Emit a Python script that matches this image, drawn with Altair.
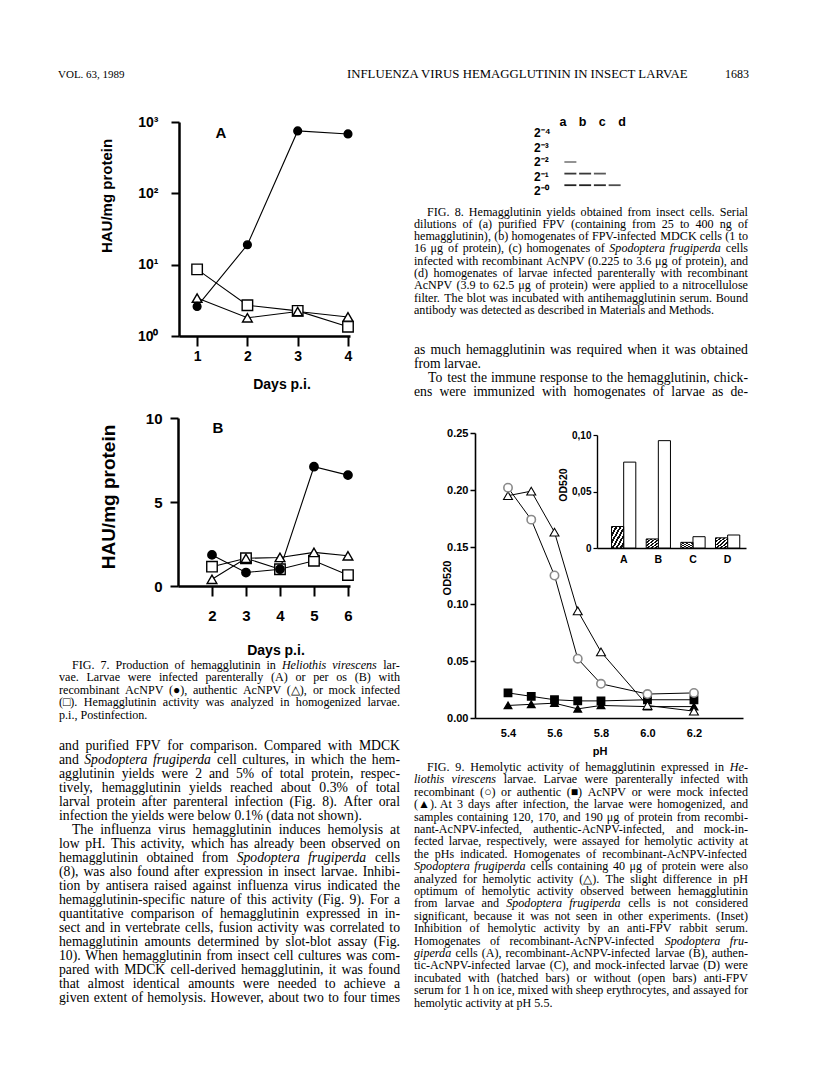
import altair as alt
import pandas as pd

# ---------------- data (read from the scanned page) ----------------
fig7a_days = [1, 2, 3, 4]
fig7a_recombinant = [2.6, 19.0, 750.0, 680.0]   # filled circles
fig7a_authentic = [3.4, 1.8, 2.2, 1.85]         # open triangles
fig7a_mock = [8.6, 2.7, 2.25, 1.35]             # open squares

fig7b_days = [2, 3, 4, 5, 6]
fig7b_recombinant = [1.85, 0.8, 1.0, 7.1, 6.6]
fig7b_authentic = [0.4, 1.65, 1.7, 2.0, 1.8]
fig7b_mock = [1.15, 1.65, 1.0, 1.5, 0.65]

fig9_ph = [5.4, 5.5, 5.6, 5.7, 5.8, 6.0, 6.2]
fig9_recombinant = [0.202, 0.174, 0.125, 0.052, 0.030, 0.021, 0.022]   # open circles
fig9_authentic = [0.022, 0.019, 0.016, 0.015, 0.015, 0.016, 0.016]     # filled squares
fig9_mock = [0.011, 0.012, 0.013, 0.008, 0.011, 0.010, 0.010]          # filled triangles
fig9_sf_cells = [0.195, 0.199, 0.163, 0.094, 0.058, 0.011, 0.006]      # open triangles

inset_groups = ["A", "B", "C", "D"]
inset_hatched = [0.019, 0.008, 0.005, 0.009]
inset_open = [0.076, 0.095, 0.010, 0.0115]

blot_lanes = ["a", "b", "c", "d"]
blot_rows = ["2⁻⁴", "2⁻³", "2⁻²", "2⁻¹", "2⁻⁰"]
blot_band_lane = ["a", "a", "b", "c", "a", "b", "c", "d"]
blot_band_row = ["2⁻²", "2⁻¹", "2⁻¹", "2⁻¹", "2⁻⁰", "2⁻⁰", "2⁻⁰", "2⁻⁰"]
blot_band_intensity = [0.55, 0.9, 0.9, 0.75, 1.0, 1.0, 0.95, 0.8]

header_left = "VOL. 63, 1989"
header_title = "INFLUENZA VIRUS HEMAGGLUTININ IN INSECT LARVAE"
header_page = "1683"

italic_words = {"Heliothis", "virescens", "Spodoptera", "frugiperda", "He-", "liothis", "fru-",
                "giperda"}

fig7_caption = [
    "FIG. 7. Production of hemagglutinin in Heliothis virescens lar-",
    "vae. Larvae were infected parenterally (A) or per os (B) with",
    "recombinant AcNPV (●), authentic AcNPV (△), or mock infected",
    "(□). Hemagglutinin activity was analyzed in homogenized larvae.",
    "p.i., Postinfection.",
]
left_par1 = [
    "and purified FPV for comparison. Compared with MDCK",
    "and Spodoptera frugiperda cell cultures, in which the hem-",
    "agglutinin yields were 2 and 5% of total protein, respec-",
    "tively, hemagglutinin yields reached about 0.3% of total",
    "larval protein after parenteral infection (Fig. 8). After oral",
    "infection the yields were below 0.1% (data not shown).",
]
left_par2 = [
    "The influenza virus hemagglutinin induces hemolysis at",
    "low pH. This activity, which has already been observed on",
    "hemagglutinin obtained from Spodoptera frugiperda cells",
    "(8), was also found after expression in insect larvae. Inhibi-",
    "tion by antisera raised against influenza virus indicated the",
    "hemagglutinin-specific nature of this activity (Fig. 9). For a",
    "quantitative comparison of hemagglutinin expressed in in-",
    "sect and in vertebrate cells, fusion activity was correlated to",
    "hemagglutinin amounts determined by slot-blot assay (Fig.",
    "10). When hemagglutinin from insect cell cultures was com-",
    "pared with MDCK cell-derived hemagglutinin, it was found",
    "that almost identical amounts were needed to achieve a",
    "given extent of hemolysis. However, about two to four times",
]
fig8_caption = [
    "FIG. 8. Hemagglutinin yields obtained from insect cells. Serial",
    "dilutions of (a) purified FPV (containing from 25 to 400 ng of",
    "hemagglutinin), (b) homogenates of FPV-infected MDCK cells (1 to",
    "16 μg of protein), (c) homogenates of Spodoptera frugiperda cells",
    "infected with recombinant AcNPV (0.225 to 3.6 μg of protein), and",
    "(d) homogenates of larvae infected parenterally with recombinant",
    "AcNPV (3.9 to 62.5 μg of protein) were applied to a nitrocellulose",
    "filter. The blot was incubated with antihemagglutinin serum. Bound",
    "antibody was detected as described in Materials and Methods.",
]
right_par1 = [
    "as much hemagglutinin was required when it was obtained",
    "from larvae.",
]
right_par2 = [
    "To test the immune response to the hemagglutinin, chick-",
    "ens were immunized with homogenates of larvae as de-",
]
fig9_caption = [
    "FIG. 9. Hemolytic activity of hemagglutinin expressed in He-",
    "liothis virescens larvae. Larvae were parenterally infected with",
    "recombinant (○) or authentic (■) AcNPV or were mock infected",
    "(▲). At 3 days after infection, the larvae were homogenized, and",
    "samples containing 120, 170, and 190 μg of protein from recombi-",
    "nant-AcNPV-infected, authentic-AcNPV-infected, and mock-in-",
    "fected larvae, respectively, were assayed for hemolytic activity at",
    "the pHs indicated. Homogenates of recombinant-AcNPV-infected",
    "Spodoptera frugiperda cells containing 40 μg of protein were also",
    "analyzed for hemolytic activity (△). The slight difference in pH",
    "optimum of hemolytic activity observed between hemagglutinin",
    "from larvae and Spodoptera frugiperda cells is not considered",
    "significant, because it was not seen in other experiments. (Inset)",
    "Inhibition of hemolytic activity by an anti-FPV rabbit serum.",
    "Homogenates of recombinant-AcNPV-infected Spodoptera fru-",
    "giperda cells (A), recombinant-AcNPV-infected larvae (B), authen-",
    "tic-AcNPV-infected larvae (C), and mock-infected larvae (D) were",
    "incubated with (hatched bars) or without (open bars) anti-FPV",
    "serum for 1 h on ice, mixed with sheep erythrocytes, and assayed for",
    "hemolytic activity at pH 5.5.",
]

# ---------------- layout helpers (page pixel coordinates) ----------------
W, H = 800, 1061
M = 8
SANS = "Liberation Sans"
SERIF = "Liberation Serif"
ONE = pd.DataFrame({"k": [0]})
CAP = 12.1   # caption font size
BODY = 13.7  # body text font size

# Times (Liberation Serif) advance widths per 1000 em, used only to typeset justified lines
_REG = dict(zip(" !\"#$%&'()*+,-./0123456789:;<=>?@", [250, 333, 408, 500, 500, 833, 778, 180, 333, 333, 500, 564, 250, 333, 250, 278] + [500] * 10 + [278, 278, 564, 564, 564, 444, 921]))
_REG.update(dict(zip("ABCDEFGHIJKLMNOPQRSTUVWXYZ", [722, 667, 667, 722, 611, 556, 722, 722, 333, 389, 722, 611, 889, 722, 722, 556, 722, 667, 556, 611, 722, 722, 944, 722, 722, 611])))
_REG.update(dict(zip("abcdefghijklmnopqrstuvwxyz", [444, 500, 444, 500, 444, 333, 500, 500, 278, 278, 500, 278, 778, 500, 500, 500, 500, 333, 389, 278, 500, 500, 722, 500, 500, 444])))
_REG.update({"[": 333, "]": 333, "μ": 576, "●": 604, "○": 604, "■": 604, "□": 604, "▲": 780, "△": 780})
_ITA = dict(_REG)
_ITA.update(dict(zip("abcdefghijklmnopqrstuvwxyz", [500, 500, 444, 500, 444, 278, 500, 500, 278, 278, 444, 278, 722, 500, 500, 500, 500, 389, 389, 278, 500, 444, 667, 444, 444, 389])))
_ITA.update({"H": 722, "S": 500})


def tw(word, size, italic):
    table = _ITA if italic else _REG
    return sum(table.get(ch, 500) for ch in word) * size / 1000.0


def typeset(lines, left, right, top, lh, size, indent, last_free):
    rows = []
    for i, line in enumerate(lines):
        words = line.split(" ")
        x0 = left + (indent if i == 0 else 0)
        its = [w in italic_words for w in words]
        widths = [tw(w, size, it) for w, it in zip(words, its)]
        natural = 0.25 * size
        free = last_free and i == len(lines) - 1
        if len(words) > 1 and not free:
            gap = (right - x0 - sum(widths)) / (len(words) - 1)
            gap = max(gap, 0.12 * size)
        else:
            gap = natural
        x = x0
        for w, it, wd in zip(words, its, widths):
            rows.append({"word": w, "px": P(x), "py": P(top + i * lh), "italic": it, "size": size})
            x += wd + gap
    return rows


def P(v):
    return v - M


def xscale(domain, left, right, **kw):
    return alt.Scale(domain=domain, range=[P(left), P(right)], nice=False, zero=False, **kw)


def yscale(domain, bottom, top, **kw):
    return alt.Scale(domain=domain, range=[P(bottom), P(top)], nice=False, **kw)


def text(lines, x, y, size=11, lh=12.4, font=SERIF, weight="normal", align="left",
         angle=0, baseline="alphabetic"):
    val = lines if isinstance(lines, str) else list(lines)
    return alt.Chart(ONE).mark_text(
        align=align, baseline=baseline, font=font, fontSize=size, lineHeight=lh,
        fontWeight=weight, angle=angle, color="black",
    ).encode(x=alt.value(P(x)), y=alt.value(P(y)), text=alt.value(val))


def axis(orient, pos, **kw):
    base = dict(orient=orient, title=None, grid=False, domainColor="black", tickColor="black",
                labelColor="black", labelFont=SANS, labelFontWeight="bold", labelOverlap=False,
                labelFlush=False)
    if orient == "left":
        base["offset"] = -P(pos)
    else:
        base["offset"] = P(pos) - H
    base.update(kw)
    return alt.Axis(**base)


def frame(xs, ys):
    return pd.DataFrame({"x": xs, "y": ys})


def line_layer(df, sx, sy, ax=None, ay=None, sw=1.1):
    return alt.Chart(df).mark_line(color="black", strokeWidth=sw).encode(
        x=alt.X("x:Q", scale=sx, axis=ax),
        y=alt.Y("y:Q", scale=sy, axis=ay),
    )


def point_layer(df, sx, sy, shape, fill, stroke, size, sw=1.4):
    return alt.Chart(df).mark_point(
        shape=shape, filled=True, fill=fill, stroke=stroke, strokeWidth=sw, size=size, opacity=1
    ).encode(
        x=alt.X("x:Q", scale=sx, axis=None),
        y=alt.Y("y:Q", scale=sy, axis=None),
    )


layers = []

# ---------------- header ----------------
layers.append(text(header_left, 58, 78, size=11))
layers.append(text(header_title, 347, 78, size=12.8))
layers.append(text(header_page, 749, 78, size=12, align="right"))

# ---------------- Fig 7A ----------------
sx7a = xscale([0.64, 4.04], 179, 350)
sy7a = yscale([1, 1000], 336, 122, type="log")
ax7a = axis("bottom", 336, values=fig7a_days, format="d", tickSize=10, tickWidth=2,
            domainWidth=2.5, labelFontSize=14, labelPadding=3)
ay7a = axis("left", 179, values=[1, 10, 100, 1000], tickSize=8, tickWidth=2, domainWidth=2.5,
            labelFontSize=14, labelPadding=13,
            labelExpr="'10' + ['⁰','¹','²','³'][round(log(datum.value)/LN10)]")
d7a_r = frame(fig7a_days, fig7a_recombinant)
d7a_a = frame(fig7a_days, fig7a_authentic)
d7a_m = frame(fig7a_days, fig7a_mock)
layers += [
    line_layer(d7a_r, sx7a, sy7a, ax7a, ay7a),
    line_layer(d7a_a, sx7a, sy7a),
    line_layer(d7a_m, sx7a, sy7a),
    point_layer(d7a_m, sx7a, sy7a, "square", "white", "black", 110),
    point_layer(d7a_a, sx7a, sy7a, "triangle-up", "white", "black", 95),
    point_layer(d7a_r, sx7a, sy7a, "circle", "black", "black", 60),
]
layers.append(text("A", 221, 133, size=15, font=SANS, weight="bold", align="center", baseline="middle"))
layers.append(text("HAU/mg protein", 107, 196, size=15, font=SANS, weight="bold", align="center",
                   angle=270, baseline="middle"))
layers.append(text("Days p.i.", 282, 385, size=14, font=SANS, weight="bold", align="center",
                   baseline="middle"))

# ---------------- Fig 7B ----------------
sx7b = xscale([1.0, 6.06], 178, 350)
sy7b = yscale([0, 10], 586, 418)
ax7b = axis("bottom", 586, values=fig7b_days, format="d", tickSize=10, tickWidth=2,
            domainWidth=2.5, labelFontSize=15, labelPadding=12)
ay7b = axis("left", 178, values=[0, 5, 10], format="d", tickSize=8, tickWidth=2, domainWidth=2.5,
            labelFontSize=15, labelPadding=8)
d7b_r = frame(fig7b_days, fig7b_recombinant)
d7b_a = frame(fig7b_days, fig7b_authentic)
d7b_m = frame(fig7b_days, fig7b_mock)
layers += [
    line_layer(d7b_r, sx7b, sy7b, ax7b, ay7b),
    line_layer(d7b_a, sx7b, sy7b),
    line_layer(d7b_m, sx7b, sy7b),
    point_layer(d7b_m, sx7b, sy7b, "square", "white", "black", 110),
    point_layer(d7b_a, sx7b, sy7b, "triangle-up", "white", "black", 95),
    point_layer(d7b_r, sx7b, sy7b, "circle", "black", "black", 70),
]
layers.append(text("B", 218, 428, size=15, font=SANS, weight="bold", align="center", baseline="middle"))
layers.append(text("HAU/mg protein", 109, 497, size=19, font=SANS, weight="bold", align="center",
                   angle=270, baseline="middle"))
layers.append(text("Days p.i.", 276, 651, size=14, font=SANS, weight="bold", align="center",
                   baseline="middle"))

# ---------------- Fig 8 blot ----------------
sx8 = alt.Scale(domain=blot_lanes, range=[P(563), P(622)], padding=0)
sy8 = alt.Scale(domain=blot_rows, range=[P(133), P(191)], padding=0)
lanes_df = pd.DataFrame({"lane": blot_lanes})
rows_df = pd.DataFrame({"row": blot_rows})
bands_df = pd.DataFrame({"lane": blot_band_lane, "row": blot_band_row, "intensity": blot_band_intensity})
layers.append(
    alt.Chart(lanes_df).mark_text(font=SANS, fontWeight="bold", fontSize=12.5, baseline="middle",
                                  color="black").encode(
        x=alt.X("lane:N", scale=sx8, axis=None), y=alt.value(P(122)), text="lane:N")
)
layers.append(
    alt.Chart(rows_df).mark_text(font=SANS, fontWeight="bold", fontSize=12, baseline="middle",
                                 align="left", color="black").encode(
        y=alt.Y("row:N", scale=sy8, axis=None), x=alt.value(P(534)), text="row:N")
)
layers.append(
    alt.Chart(bands_df).mark_tick(orient="horizontal", size=12, thickness=1.8, color="#222").encode(
        x=alt.X("lane:N", scale=sx8, axis=None),
        y=alt.Y("row:N", scale=sy8, axis=None),
        opacity=alt.Opacity("intensity:Q", scale=alt.Scale(domain=[0, 1], range=[0, 1]), legend=None),
    )
)

# ---------------- Fig 9 main ----------------
sx9 = xscale([5.258, 6.411], 475, 743)
sy9 = yscale([0, 0.25], 718, 433)
ax9 = axis("bottom", 718, values=[5.4, 5.6, 5.8, 6.0, 6.2], format=".1f", ticks=False,
           domainWidth=1.6, labelFontSize=11, labelPadding=9)
ay9 = axis("left", 475, values=[0, 0.05, 0.10, 0.15, 0.20, 0.25], format=".2f", tickSize=5,
           tickWidth=1.5, domainWidth=1.6, labelFontSize=11, labelPadding=2)
d9_r = frame(fig9_ph, fig9_recombinant)
d9_a = frame(fig9_ph, fig9_authentic)
d9_m = frame(fig9_ph, fig9_mock)
d9_s = frame(fig9_ph, fig9_sf_cells)
layers += [
    line_layer(d9_r, sx9, sy9, ax9, ay9, sw=1),
    line_layer(d9_a, sx9, sy9, sw=1),
    line_layer(d9_m, sx9, sy9, sw=1),
    line_layer(d9_s, sx9, sy9, sw=1),
    point_layer(d9_a, sx9, sy9, "square", "black", "black", 55),
    point_layer(d9_m, sx9, sy9, "triangle-up", "black", "black", 55),
    point_layer(d9_s, sx9, sy9, "triangle-up", "white", "black", 80, sw=1.1),
    point_layer(d9_r, sx9, sy9, "circle", "white", "#8a8a8a", 70, sw=1.6),
]
layers.append(text("OD520", 448, 578, size=11, font=SANS, weight="bold", align="center",
                   angle=270, baseline="middle"))
layers.append(text("pH", 600, 752, size=11, font=SANS, weight="bold", align="center",
                   baseline="middle"))

# ---------------- Fig 9 inset ----------------
sxi = alt.Scale(domain=inset_groups, range=[P(597), P(746)], paddingInner=0.3, paddingOuter=0.3,
                align=0.7)
syi = yscale([0, 0.1], 548, 435)
soi = alt.Scale(domain=["hatched", "open"], paddingInner=0, paddingOuter=0)
axi = axis("bottom", 548, ticks=False, domainWidth=1.4, labelFontSize=10.5, labelPadding=6,
           labelAngle=0)
ayi = axis("left", 597, values=[0, 0.05, 0.10], tickSize=4, tickWidth=1.2, domainWidth=1.4,
           labelFontSize=10, labelPadding=2,
           labelExpr="datum.value == 0 ? '0' : replace(format(datum.value, '.2f'), '.', ',')")
hatched_df = pd.DataFrame({"group": inset_groups, "kind": ["hatched"] * 4, "value": inset_hatched})
open_df = pd.DataFrame({"group": inset_groups, "kind": ["open"] * 4, "value": inset_open})

n_stripes = 6
stops = []
for i in range(n_stripes):
    a = i / n_stripes
    b = (i + 0.5) / n_stripes
    c = (i + 1) / n_stripes
    stops += [alt.GradientStop(offset=a, color="#111"), alt.GradientStop(offset=b, color="#111"),
              alt.GradientStop(offset=b, color="white"), alt.GradientStop(offset=c, color="white")]
hatch = alt.LinearGradient(gradient="linear", stops=stops, x1=0, y1=0, x2=1, y2=1)

layers.append(
    alt.Chart(open_df).mark_bar(fill="white", stroke="black", strokeWidth=1).encode(
        x=alt.X("group:N", scale=sxi, axis=axi, sort=inset_groups),
        xOffset=alt.XOffset("kind:N", scale=soi),
        y=alt.Y("value:Q", scale=syi, axis=ayi),
    )
)
layers.append(
    alt.Chart(hatched_df).mark_bar(fill=hatch, stroke="black", strokeWidth=1).encode(
        x=alt.X("group:N", scale=sxi, axis=None, sort=inset_groups),
        xOffset=alt.XOffset("kind:N", scale=soi),
        y=alt.Y("value:Q", scale=syi, axis=None),
    )
)
layers.append(text("OD520", 564, 485, size=10.5, font=SANS, weight="bold", align="center",
                   angle=270, baseline="middle"))

# ---------------- justified captions and body text ----------------
LEFT_COL = (59, 400)
RIGHT_COL = (414, 748)
words = []
words += typeset(fig7_caption, *LEFT_COL, 668.5, 12.5, CAP, 13, True)
words += typeset(left_par1, *LEFT_COL, 750, 14, BODY, 0, True)
words += typeset(left_par2, *LEFT_COL, 834, 14, BODY, 13, False)
words += typeset(fig8_caption, *RIGHT_COL, 215.5, 12.3, CAP, 13, True)
words += typeset(right_par1, *RIGHT_COL, 354, 14, BODY, 0, True)
words += typeset(right_par2, *RIGHT_COL, 382, 14, BODY, 14, False)
words += typeset(fig9_caption, *RIGHT_COL, 771, 12.4, CAP, 13, True)
words_df = pd.DataFrame(words)

for size in (CAP, BODY):
    for italic in (False, True):
        sub = words_df[(words_df["size"] == size) & (words_df["italic"] == italic)]
        if len(sub) == 0:
            continue
        layers.append(
            alt.Chart(sub[["word", "px", "py"]]).mark_text(
                align="left", baseline="alphabetic", font=SERIF, fontSize=size,
                fontStyle="italic" if italic else "normal", color="black",
            ).encode(
                x=alt.X("px:Q", scale=None, axis=None),
                y=alt.Y("py:Q", scale=None, axis=None),
                text="word:N",
            )
        )

chart = (
    alt.layer(*layers)
    .resolve_scale(x="independent", y="independent", xOffset="independent", opacity="independent")
    .resolve_axis(x="independent", y="independent")
    .properties(width=W, height=H, autosize=alt.AutoSizeParams(type="none"), padding=0,
                background="white")
    .configure_view(strokeWidth=0)
)

chart.save("out.html", embed_options={"renderer": "svg", "actions": False})
